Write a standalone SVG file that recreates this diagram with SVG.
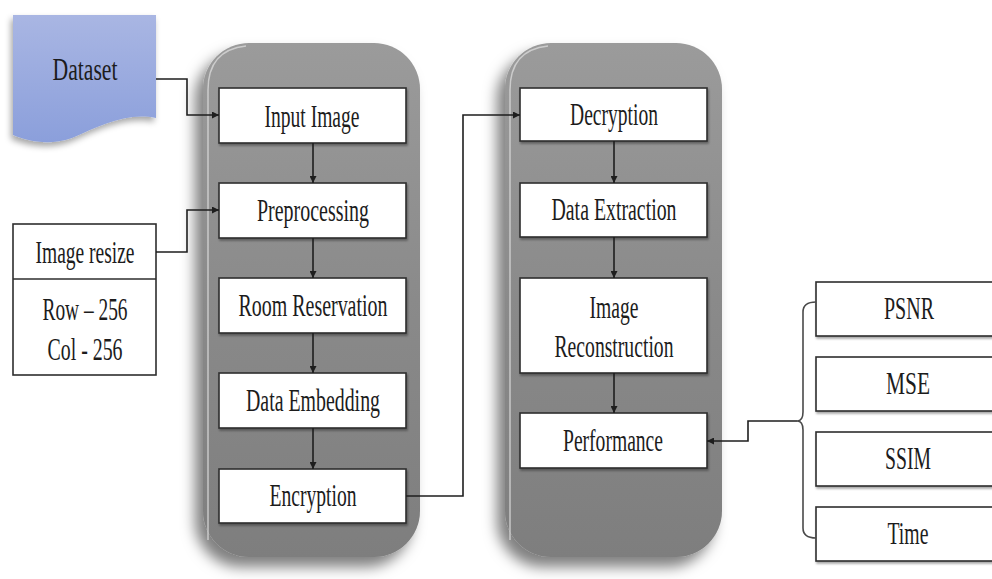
<svg xmlns="http://www.w3.org/2000/svg" width="992" height="579" viewBox="0 0 992 579">
  <style>
    .lbl { font-family: "Liberation Serif", "Times New Roman", serif; font-size: 31px; fill: #1c1c1c; text-anchor: middle; }
    .box { fill: #ffffff; stroke: #2e2e2e; stroke-width: 1.6; }
    .wire { fill: none; stroke: #1e1e1e; stroke-width: 1.6; }
    .brace { fill: none; stroke: #4a4a4a; stroke-width: 1.6; }
  </style>
  <defs>
    <linearGradient id="pillFill" x1="0" y1="0" x2="0" y2="1">
      <stop offset="0" stop-color="#9b9b9b"/>
      <stop offset="0.5" stop-color="#8a8a8a"/>
      <stop offset="1" stop-color="#7e7e7e"/>
    </linearGradient>
    <linearGradient id="docFill" x1="0" y1="0" x2="0" y2="1">
      <stop offset="0" stop-color="#a9b6e3"/>
      <stop offset="1" stop-color="#8b9fdb"/>
    </linearGradient>
    <filter id="pillShadow" x="-30%" y="-20%" width="160%" height="140%">
      <feDropShadow dx="-8" dy="10" stdDeviation="7" flood-color="#000" flood-opacity="0.5"/>
    </filter>
    <filter id="boxShadow" x="-10%" y="-20%" width="120%" height="150%">
      <feDropShadow dx="1" dy="2" stdDeviation="1" flood-color="#000" flood-opacity="0.35"/>
    </filter>
    <filter id="docShadow" x="-20%" y="-20%" width="140%" height="150%">
      <feDropShadow dx="-2" dy="4" stdDeviation="3" flood-color="#000" flood-opacity="0.35"/>
    </filter>
    <marker id="arrow" viewBox="0 0 10 10" refX="10" refY="5" markerWidth="7" markerHeight="7" orient="auto" markerUnits="userSpaceOnUse">
      <path d="M0,0 L10,5 L0,10 Z" fill="#1e1e1e"/>
    </marker>
  </defs>

  <rect width="992" height="579" fill="#ffffff"/>

  <!-- stage containers -->
  <g id="embed-stage">
    <rect x="203" y="43" width="217" height="514" rx="46" ry="46" fill="url(#pillFill)" filter="url(#pillShadow)"/>
    <path d="M208,540 V90 Q208,50 246,46" fill="none" stroke="#d8d8d8" stroke-width="1.5" opacity="0.8"/>
  </g>
  <g id="extract-stage">
    <rect x="505" y="43" width="217" height="514" rx="46" ry="46" fill="url(#pillFill)" filter="url(#pillShadow)"/>
    <path d="M510,540 V90 Q510,50 548,46" fill="none" stroke="#d8d8d8" stroke-width="1.5" opacity="0.8"/>
  </g>

  <!-- inputs -->
  <g id="dataset">
    <path d="M13,15 H156 V118 C126,112 100,126 72,138 C48,146 28,141 13,135 Z" fill="url(#docFill)" filter="url(#docShadow)"/>
    <text class="lbl" x="85" y="80" font-size="34" textLength="65" lengthAdjust="spacingAndGlyphs">Dataset</text>
  </g>
  <g id="image-resize">
    <rect class="box" x="13" y="224" width="143" height="151"/>
    <line x1="13" y1="279" x2="156" y2="279" stroke="#2e2e2e" stroke-width="1.6"/>
    <text class="lbl" x="85" y="263" textLength="99" lengthAdjust="spacingAndGlyphs">Image resize</text>
    <text class="lbl" x="85" y="320" textLength="85" lengthAdjust="spacingAndGlyphs">Row – 256</text>
    <text class="lbl" x="85" y="360" textLength="75" lengthAdjust="spacingAndGlyphs">Col - 256</text>
  </g>

  <!-- embedding side -->
  <g id="input-image">
    <rect class="box" x="219" y="88" width="187" height="55" filter="url(#boxShadow)"/>
    <text class="lbl" x="312" y="127" textLength="95" lengthAdjust="spacingAndGlyphs">Input Image</text>
  </g>
  <g id="preprocessing">
    <rect class="box" x="219" y="183" width="187" height="55" filter="url(#boxShadow)"/>
    <text class="lbl" x="313" y="221" textLength="112" lengthAdjust="spacingAndGlyphs">Preprocessing</text>
  </g>
  <g id="room-reservation">
    <rect class="box" x="219" y="278" width="187" height="55" filter="url(#boxShadow)"/>
    <text class="lbl" x="313" y="316" textLength="149" lengthAdjust="spacingAndGlyphs">Room Reservation</text>
  </g>
  <g id="data-embedding">
    <rect class="box" x="219" y="373" width="187" height="55" filter="url(#boxShadow)"/>
    <text class="lbl" x="313" y="411" textLength="134" lengthAdjust="spacingAndGlyphs">Data Embedding</text>
  </g>
  <g id="encryption">
    <rect class="box" x="219" y="469" width="187" height="54" filter="url(#boxShadow)"/>
    <text class="lbl" x="313" y="506" textLength="87" lengthAdjust="spacingAndGlyphs">Encryption</text>
  </g>

  <!-- extraction side -->
  <g id="decryption">
    <rect class="box" x="520" y="88" width="187" height="53" filter="url(#boxShadow)"/>
    <text class="lbl" x="614" y="125" textLength="88" lengthAdjust="spacingAndGlyphs">Decryption</text>
  </g>
  <g id="data-extraction">
    <rect class="box" x="520" y="183" width="187" height="54" filter="url(#boxShadow)"/>
    <text class="lbl" x="614" y="220" textLength="125" lengthAdjust="spacingAndGlyphs">Data Extraction</text>
  </g>
  <g id="image-reconstruction">
    <rect class="box" x="520" y="278" width="187" height="95" filter="url(#boxShadow)"/>
    <text class="lbl" x="614" y="318" textLength="49" lengthAdjust="spacingAndGlyphs">Image</text>
    <text class="lbl" x="614" y="357" textLength="119" lengthAdjust="spacingAndGlyphs">Reconstruction</text>
  </g>
  <g id="performance">
    <rect class="box" x="520" y="413" width="187" height="55" filter="url(#boxShadow)"/>
    <text class="lbl" x="613" y="451" textLength="100" lengthAdjust="spacingAndGlyphs">Performance</text>
  </g>

  <!-- metrics -->
  <g id="psnr">
    <rect class="box" x="816" y="282" width="190" height="54" filter="url(#boxShadow)"/>
    <text class="lbl" x="909" y="319" textLength="50" lengthAdjust="spacingAndGlyphs">PSNR</text>
  </g>
  <g id="mse">
    <rect class="box" x="816" y="357" width="190" height="54" filter="url(#boxShadow)"/>
    <text class="lbl" x="908" y="394" textLength="44" lengthAdjust="spacingAndGlyphs">MSE</text>
  </g>
  <g id="ssim">
    <rect class="box" x="816" y="432" width="190" height="54" filter="url(#boxShadow)"/>
    <text class="lbl" x="908" y="469" textLength="46" lengthAdjust="spacingAndGlyphs">SSIM</text>
  </g>
  <g id="time">
    <rect class="box" x="816" y="507" width="190" height="54" filter="url(#boxShadow)"/>
    <text class="lbl" x="908" y="544" textLength="41" lengthAdjust="spacingAndGlyphs">Time</text>
  </g>

  <!-- connectors -->
  <g id="connectors">
    <path class="wire" d="M156,79 H187 V115 H219" marker-end="url(#arrow)"/>
    <path class="wire" d="M156,252 H187 V210 H219" marker-end="url(#arrow)"/>
    <path class="wire" d="M313,143 V183" marker-end="url(#arrow)"/>
    <path class="wire" d="M313,238 V278" marker-end="url(#arrow)"/>
    <path class="wire" d="M313,333 V373" marker-end="url(#arrow)"/>
    <path class="wire" d="M313,428 V469" marker-end="url(#arrow)"/>
    <path class="wire" d="M406,496 H463 V115 H520" marker-end="url(#arrow)"/>
    <path class="wire" d="M614,141 V183" marker-end="url(#arrow)"/>
    <path class="wire" d="M614,237 V278" marker-end="url(#arrow)"/>
    <path class="wire" d="M614,373 V413" marker-end="url(#arrow)"/>
    <path class="brace" d="M816,302 Q803,302 803,312 V412 Q803,421 797,421 Q803,421 803,430 V528 Q803,538 816,538"/>
    <path class="wire" d="M797,421 H748 V441 H707" marker-end="url(#arrow)"/>
  </g>
</svg>
